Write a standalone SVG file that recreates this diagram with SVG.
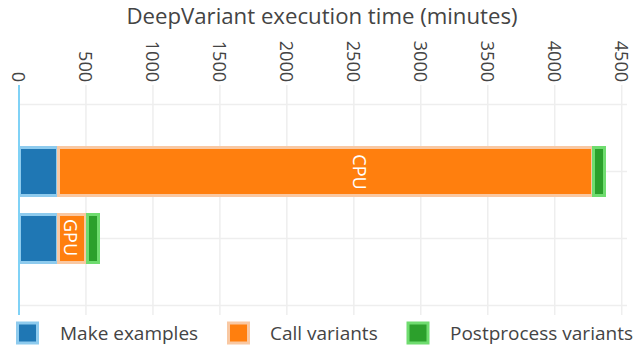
<svg xmlns="http://www.w3.org/2000/svg" width="644" height="349" viewBox="0 0 644 349">
<style>
text{font-family:"Open Sans","Noto Sans","Liberation Sans",sans-serif;fill:#444444}
.grid line{stroke:#eeeeee;stroke-width:1.5}
.tick{font-size:18px;text-anchor:end}
.leg{font-size:19px}
.me{fill:#1f77b4;stroke:#8ecbee;stroke-width:3}
.cv{fill:#ff7f0e;stroke:#f9c8a2;stroke-width:3}
.pp{fill:#2ca02c;stroke:#6fdc6f;stroke-width:3}
.inbar{font-size:18px;fill:#ffffff;text-anchor:middle}
</style>
<rect width="644" height="349" fill="#ffffff"/>
<text x="322" y="24" font-size="22.2" text-anchor="middle">DeepVariant execution time (minutes)</text>
<g id="grid" class="grid">
<line x1="85.96" y1="85" x2="85.96" y2="315"/>
<line x1="152.93" y1="85" x2="152.93" y2="315"/>
<line x1="219.89" y1="85" x2="219.89" y2="315"/>
<line x1="286.86" y1="85" x2="286.86" y2="315"/>
<line x1="353.82" y1="85" x2="353.82" y2="315"/>
<line x1="420.79" y1="85" x2="420.79" y2="315"/>
<line x1="487.75" y1="85" x2="487.75" y2="315"/>
<line x1="554.72" y1="85" x2="554.72" y2="315"/>
<line x1="621.7" y1="85" x2="621.7" y2="315"/>
<line x1="19" y1="104.5" x2="627" y2="104.5"/>
<line x1="19" y1="171.5" x2="627" y2="171.5"/>
<line x1="19" y1="238.5" x2="627" y2="238.5"/>
<line x1="19" y1="305.5" x2="627" y2="305.5"/>
</g>
<g id="ticks" class="tick">
<text transform="translate(18,82) rotate(90)" dy="0.36em">0</text>
<text transform="translate(85,82) rotate(90)" dy="0.36em">500</text>
<text transform="translate(152,82) rotate(90)" dy="0.36em">1000</text>
<text transform="translate(219,82) rotate(90)" dy="0.36em">1500</text>
<text transform="translate(286,82) rotate(90)" dy="0.36em">2000</text>
<text transform="translate(353,82) rotate(90)" dy="0.36em">2500</text>
<text transform="translate(420,82) rotate(90)" dy="0.36em">3000</text>
<text transform="translate(487,82) rotate(90)" dy="0.36em">3500</text>
<text transform="translate(554,82) rotate(90)" dy="0.36em">4000</text>
<text transform="translate(621,82) rotate(90)" dy="0.36em">4500</text>
</g>
<g id="bar-cpu">
<rect class="me" x="19.5" y="147.5" width="38" height="48"/>
<rect class="cv" x="58.5" y="147.5" width="534" height="48"/>
<rect class="pp" x="593.5" y="147.5" width="11" height="48"/>
<text class="inbar" transform="translate(359,172) rotate(90)" dy="0.36em">CPU</text>
</g>
<g id="bar-gpu">
<rect class="me" x="19.5" y="214.5" width="38" height="48"/>
<rect class="cv" x="58.5" y="214.5" width="27" height="48"/>
<rect class="pp" x="87.5" y="214.5" width="11" height="48"/>
<text class="inbar" transform="translate(70,237.5) rotate(90)" dy="0.36em">GPU</text>
</g>
<line id="zeroline" x1="19" y1="85" x2="19" y2="315" stroke="#80d2f6" stroke-width="2"/>
<g id="legend">
<rect class="me" x="17.5" y="323" width="20" height="20"/>
<text class="leg" x="60" y="339.5">Make examples</text>
<rect class="cv" x="228.5" y="323" width="20" height="20"/>
<text class="leg" x="270" y="339.5">Call variants</text>
<rect class="pp" x="408" y="323" width="20" height="20"/>
<text class="leg" x="450" y="339.5">Postprocess variants</text>
</g>
</svg>
